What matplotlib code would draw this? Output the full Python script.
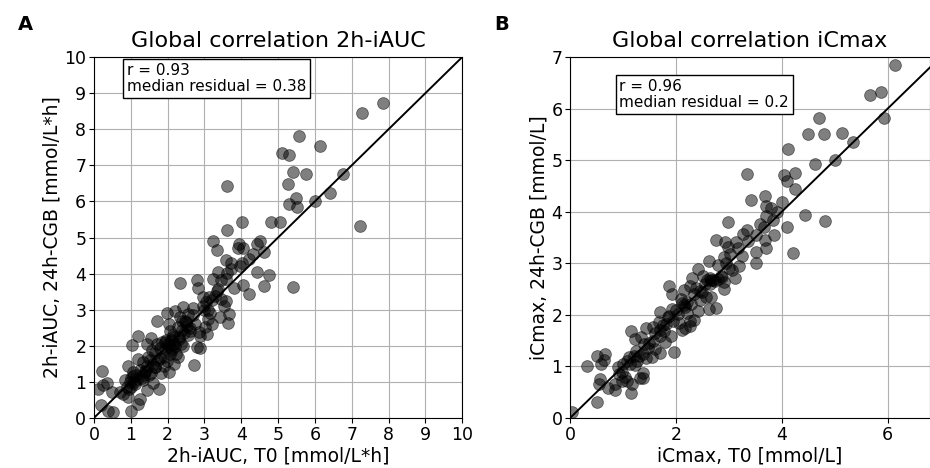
import numpy as np
import matplotlib
matplotlib.use('Agg')
import matplotlib.pyplot as plt

# panel A: 2h-iAUC, T0 vs 24h-CGB
auc_t0 = [7.84, 7.29, 5.58, 6.14, 5.10, 5.29, 5.41, 5.76, 6.75, 3.62, 5.26, 5.49, 6.42, 6.01,
          5.31, 5.51, 7.22, 4.03, 4.82, 5.04, 3.60, 3.24, 3.35, 3.94, 3.91, 4.06, 4.42, 4.52,
          4.61, 4.33, 4.21, 3.58, 3.71, 3.72, 3.97, 4.02, 3.61, 3.36, 3.23, 3.59, 3.45, 2.34,
          2.81, 2.82, 4.43, 4.76, 4.06, 4.62, 5.41, 4.21, 3.38, 3.34, 2.95, 3.13, 3.29, 3.21,
          3.59, 3.52, 2.98, 3.11, 3.41, 3.67, 3.63, 3.09, 3.20, 3.02, 2.84, 3.06, 2.88, 2.88,
          2.81, 2.71, 2.68, 2.43, 2.21, 1.98, 2.34, 2.56, 2.39, 2.52, 2.04, 2.27, 2.45, 2.56,
          2.32, 2.07, 1.71, 2.09, 1.93, 2.18, 2.03, 1.94, 2.11, 2.23, 2.07, 2.18, 2.27, 2.43,
          1.67, 1.79, 1.99, 1.89, 2.04, 1.83, 1.20, 1.03, 1.54, 1.45, 1.59, 1.70, 1.19, 1.34,
          1.52, 1.43, 0.93, 1.07, 1.25, 1.39, 1.56, 1.67, 1.16, 1.34, 1.61, 1.43, 1.76, 0.98,
          0.89, 1.02, 0.80, 0.93, 1.25, 1.21, 1.02, 0.23, 0.36, 0.25, 0.12, 0.50, 0.20, 0.39,
          0.51, 0.71, 2.00, 2.10, 2.15, 2.40, 2.50, 2.60, 1.85, 1.90, 2.20, 2.30, 1.05, 1.10,
          1.15, 1.30, 1.40, 1.50, 0.95, 1.00, 1.60, 1.75, 2.95, 3.05, 3.15, 2.75, 1.80, 1.65,
          2.62, 2.70, 1.35, 1.12, 0.85, 1.48, 2.36, 2.14, 3.45, 3.80, 1.95, 2.48]
auc_cgb = [8.72, 8.44, 7.80, 7.54, 7.33, 7.29, 6.81, 6.75, 6.75, 6.43, 6.48, 6.09, 6.22, 6.00,
           5.93, 5.85, 5.31, 5.42, 5.43, 5.43, 5.20, 4.91, 4.66, 4.81, 4.70, 4.72, 4.82, 4.90,
           4.59, 4.54, 4.40, 4.38, 4.30, 4.13, 4.20, 4.28, 4.02, 4.04, 3.85, 3.85, 3.81, 3.74,
           3.81, 3.61, 4.05, 3.95, 3.68, 3.67, 3.63, 3.43, 3.56, 3.51, 3.35, 3.35, 3.37, 3.28,
           3.24, 3.10, 2.98, 2.98, 2.81, 2.87, 2.63, 2.75, 2.61, 2.52, 2.38, 2.33, 2.26, 1.94,
           1.96, 1.48, 3.05, 3.07, 2.96, 2.92, 2.80, 2.89, 2.70, 2.56, 2.61, 2.52, 2.35, 2.31,
           2.24, 2.41, 2.69, 2.15, 2.11, 2.06, 1.99, 1.90, 1.87, 1.78, 1.76, 1.50, 1.70, 1.98,
           1.80, 1.67, 1.57, 1.45, 1.27, 1.24, 2.27, 2.01, 2.22, 2.04, 1.89, 2.06, 1.64, 1.55,
           1.61, 1.44, 1.45, 1.27, 1.33, 1.27, 1.24, 1.41, 1.08, 1.04, 0.96, 0.78, 0.81, 0.99,
           0.85, 0.87, 0.67, 0.57, 0.53, 0.39, 0.18, 1.31, 0.98, 0.90, 0.81, 0.71, 0.36, 0.18,
           0.16, 0.71, 2.05, 1.95, 2.25, 2.45, 2.65, 2.50, 2.10, 1.70, 2.00, 2.20, 1.15, 1.00,
           1.20, 1.10, 1.30, 1.20, 0.80, 1.10, 1.50, 1.60, 3.10, 3.20, 2.90, 2.60, 1.95, 1.40,
           2.40, 2.85, 1.20, 0.95, 1.05, 1.70, 2.05, 2.30, 3.30, 3.60, 2.15, 2.70]

# panel B: iCmax, T0 vs 24h-CGB
cmax_t0 = [6.14, 5.67, 5.87, 5.93, 4.71, 4.50, 4.79, 5.14, 5.34, 4.11, 5.01, 4.62, 3.35, 4.04,
           4.25, 4.10, 4.24, 3.68, 3.42, 4.00, 3.70, 3.79, 3.90, 4.43, 4.82, 2.98, 3.71, 3.83,
           3.59, 3.67, 3.35, 3.27, 4.10, 3.52, 3.86, 3.68, 3.37, 2.76, 2.93, 3.14, 3.18, 2.98,
           3.70, 3.52, 4.21, 3.02, 2.91, 3.51, 2.62, 2.80, 2.94, 3.19, 3.05, 2.41, 2.31, 2.52,
           2.59, 2.67, 2.74, 2.64, 2.87, 3.12, 2.90, 2.91, 1.86, 1.92, 2.16, 2.27, 2.37, 2.46,
           2.67, 2.56, 2.09, 2.12, 2.18, 2.28, 2.45, 2.62, 2.75, 2.41, 2.21, 2.04, 1.93, 1.69,
           1.86, 1.68, 1.81, 1.94, 2.05, 2.26, 2.34, 2.27, 2.18, 2.11, 1.90, 1.44, 1.16, 1.56,
           1.70, 1.78, 1.69, 1.56, 1.80, 1.23, 1.34, 1.40, 1.48, 1.61, 1.69, 1.96, 1.55, 1.44,
           1.37, 1.30, 1.20, 1.11, 1.07, 1.26, 1.14, 0.66, 0.50, 0.64, 0.58, 0.32, 0.90, 0.99,
           1.04, 1.07, 1.23, 1.38, 1.32, 1.37, 1.17, 1.15, 0.85, 0.85, 0.71, 0.57, 0.55, 0.51,
           0.98, 0.92, 0.03, 2.70, 2.55, 2.35, 2.00, 1.75, 1.60, 2.85, 3.00, 2.20, 1.50, 1.25,
           1.00, 2.50, 2.80, 3.25, 1.85, 2.15, 2.65]
cmax_cgb = [6.84, 6.26, 6.32, 5.82, 5.81, 5.50, 5.50, 5.53, 5.35, 5.21, 5.00, 4.92, 4.74, 4.72,
            4.75, 4.59, 4.45, 4.30, 4.22, 4.19, 4.11, 4.08, 4.00, 3.93, 3.82, 3.81, 3.92, 3.83,
            3.77, 3.70, 3.64, 3.57, 3.70, 3.54, 3.55, 3.46, 3.44, 3.46, 3.41, 3.42, 3.30, 3.31,
            3.30, 3.21, 3.20, 3.18, 3.12, 3.00, 3.04, 2.96, 3.01, 2.94, 2.86, 2.88, 2.71, 2.76,
            2.67, 2.68, 2.65, 2.71, 2.73, 2.71, 2.63, 2.50, 2.55, 2.41, 2.49, 2.56, 2.52, 2.47,
            2.34, 2.34, 2.31, 2.23, 2.15, 2.21, 2.28, 2.12, 2.13, 2.08, 2.04, 2.02, 2.12, 2.06,
            1.97, 1.87, 1.83, 1.89, 1.84, 1.89, 1.90, 1.79, 1.75, 1.70, 1.59, 1.74, 1.69, 1.76,
            1.70, 1.68, 1.58, 1.49, 1.47, 1.53, 1.57, 1.44, 1.35, 1.34, 1.26, 1.28, 1.19, 1.17,
            1.24, 1.21, 1.21, 1.18, 1.11, 1.10, 1.05, 1.24, 1.21, 1.13, 1.05, 1.00, 0.98, 0.90,
            0.80, 0.72, 1.02, 0.87, 0.77, 0.77, 0.65, 0.49, 0.66, 0.54, 0.58, 0.76, 0.66, 0.30,
            0.72, 0.85, 0.11, 2.68, 2.60, 2.40, 2.10, 1.80, 1.65, 2.75, 2.90, 2.25, 1.45, 1.30,
            1.05, 2.45, 2.70, 3.15, 1.95, 2.20, 2.60]

panels = [
    dict(x=auc_t0, y=auc_cgb, lim=(10, 10), title='Global correlation 2h-iAUC',
         xlabel='2h-iAUC, T0 [mmol/L*h]', ylabel='2h-iAUC, 24h-CGB [mmol/L*h]',
         stats='r = 0.93\nmedian residual = 0.38', box=(0.09, 0.985), letter='A',
         rect=[0.101, 0.107, 0.396, 0.771], xticks=range(0, 11), yticks=range(0, 11)),
    dict(x=cmax_t0, y=cmax_cgb, lim=(6.8, 7), title='Global correlation iCmax',
         xlabel='iCmax, T0 [mmol/L]', ylabel='iCmax, 24h-CGB [mmol/L]',
         stats='r = 0.96\nmedian residual = 0.2', box=(0.137, 0.94), letter='B',
         rect=[0.613, 0.107, 0.387, 0.771], xticks=range(0, 7, 2), yticks=range(0, 8)),
]

fig = plt.figure(figsize=(9.3, 4.68), dpi=100)
for p in panels:
    ax = fig.add_axes(p['rect'])
    ax.grid(True, color='#b0b0b0', linewidth=0.8)
    ax.set_axisbelow(True)
    ax.scatter(p['x'], p['y'], s=72, color='k', alpha=0.5, linewidths=0.6, zorder=3)
    m = max(p['lim'])
    ax.plot([0, m], [0, m], color='k', linewidth=1.4, zorder=4)
    ax.set_xlim(0, p['lim'][0])
    ax.set_ylim(0, p['lim'][1])
    ax.set_xticks(list(p['xticks']))
    ax.set_yticks(list(p['yticks']))
    ax.tick_params(labelsize=12.5, pad=2)
    ax.set_title(p['title'], fontsize=16, pad=7)
    ax.set_xlabel(p['xlabel'], fontsize=13.5, labelpad=2)
    ax.set_ylabel(p['ylabel'], fontsize=13.5, labelpad=2)
    ax.text(p['box'][0], p['box'][1], p['stats'], transform=ax.transAxes, fontsize=11,
            va='top', ha='left', linespacing=1.1, zorder=6,
            bbox=dict(boxstyle='square,pad=0.25', facecolor='white', edgecolor='k'))
    fig.text(p['rect'][0] - 0.082, 0.935, p['letter'], fontsize=14, fontweight='bold')

fig.savefig('out.png', dpi=100)
